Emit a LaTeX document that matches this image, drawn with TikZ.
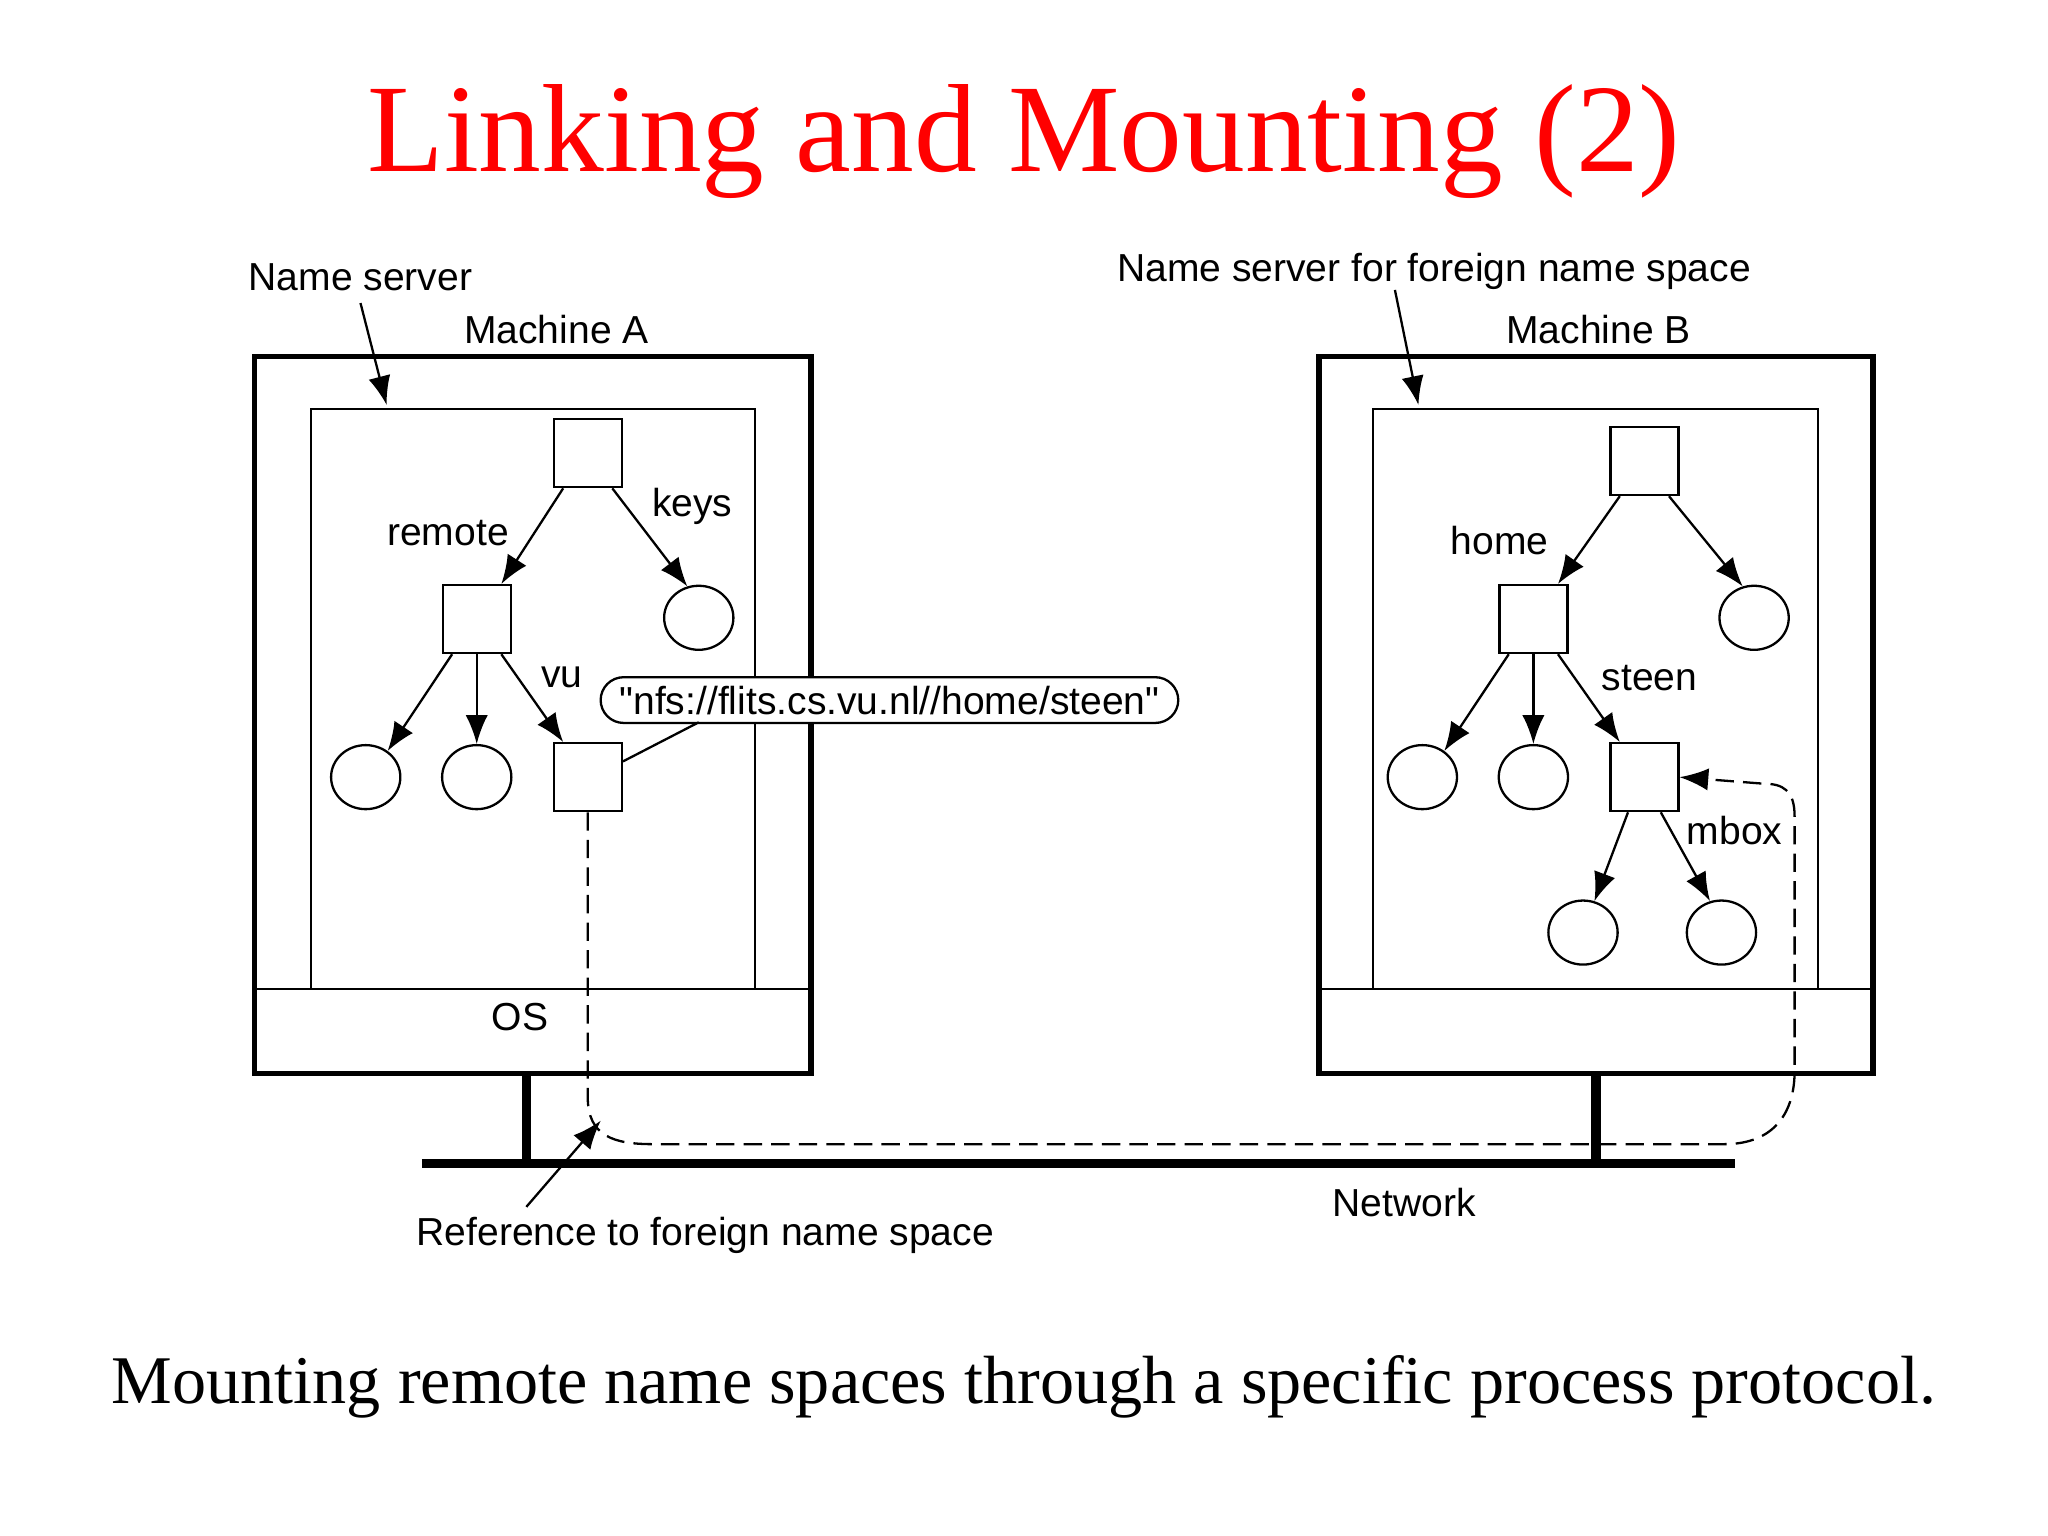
\documentclass[tikz,border=0pt]{standalone}
\usepackage{fontspec}
\setmainfont{Liberation Serif}
\newfontfamily\lblfont{Liberation Sans}
\usetikzlibrary{arrows.meta,shapes.geometric}
\begin{document}
\begin{tikzpicture}[x=0.01cm,y=-0.01cm,
  box/.style={draw,line width=1.2pt},
  inner/.style={draw,line width=0.5pt},
  sq/.style={draw,line width=0.5pt,minimum size=0.52cm,inner sep=0pt},
  lf/.style={draw,ellipse,line width=0.5pt,minimum width=0.53cm,minimum height=0.49cm,inner sep=0pt},
  arr/.style={line width=0.5pt,-{Latex[length=0.22cm,width=0.17cm]}},
  lbl/.style={font=\lblfont\fontsize{8.5pt}{9pt}\selectfont,inner sep=1pt}]
\useasboundingbox (0,0) rectangle (1568,1176);

% title and caption
\node[text=red,font=\fontsize{27.3pt}{30pt}\selectfont] (title) at (784,108) {Linking and Mounting (2)};
\node[font=\fontsize{14.85pt}{17pt}\selectfont] (caption) at (784,1062) {Mounting remote name spaces through a specific process protocol.};

% machines
\draw[box] (195,273) rectangle (621,822);
\draw[inner] (195,757) -- (621,757);
\draw[inner] (238,757) -- (238,313) -- (578,313) -- (578,757);
\draw[box] (1010,273) rectangle (1434,822);
\draw[inner] (1010,757) -- (1434,757);
\draw[inner] (1051,757) -- (1051,313) -- (1392,313) -- (1392,757);

% network
\draw[line width=2pt] (323,891) -- (1328,891);
\draw[line width=2pt] (403,822) -- (403,891);
\draw[line width=2pt] (1222,822) -- (1222,891);

% labels
\node[lbl] (ns) at (276,212) {Name server};
\node[lbl] (ma) at (426,252) {Machine A};
\node[lbl] (nsf) at (1098,208) {Name server for foreign name space};
\node[lbl] (mb) at (1224,252) {Machine B};
\node[lbl] (os) at (398,779) {OS};
\node[lbl] (net) at (1075,921) {Network};
\node[lbl] (ref) at (540,946) {Reference to foreign name space};
\coordinate (nsA) at (296,310);
\coordinate (nsB) at (1086,310);
\coordinate (refend) at (460,858);
\draw[arr] (276,232) -- (nsA);
\draw[arr] (1068,222) -- (nsB);
\draw[arr] (403,924) -- (refend);

% tree A
\node[sq] (ar) at (450,347) {};
\node[sq] (arem) at (365,474) {};
\node[lf] (akeys) at (535,473) {};
\node[lf] (a1) at (280,595) {};
\node[lf] (a2) at (365,595) {};
\node[sq] (avu) at (450,595) {};
\draw[arr] (ar.-125) -- (arem.55);
\draw[arr] (ar.-55) -- (akeys.110);
\draw[arr] (arem.-125) -- (a1.50);
\draw[arr] (arem.south) -- (a2.north);
\draw[arr] (arem.-55) -- (avu.125);
\node[lbl] at (343,408) {remote};
\node[lbl] at (530,388) {keys};
\node[lbl] at (430,519) {vu};
\node[draw,fill=white,rounded corners=5pt,line width=0.5pt,minimum width=4.42cm,minimum height=0.35cm,inner sep=0pt,
  font=\lblfont\fontsize{8.5pt}{9pt}\selectfont] (url) at (681,536) {"nfs://flits.cs.vu.nl//home/steen"};
\draw[line width=0.5pt] (avu.east |- 0,583) -- (535,553);

% tree B
\node[sq] (br) at (1259,353) {};
\node[sq] (bhome) at (1174,474) {};
\node[lf] (bk) at (1343,473) {};
\node[lf] (b1) at (1089,595) {};
\node[lf] (b2) at (1174,595) {};
\node[sq] (bst) at (1259,595) {};
\node[lf] (b3) at (1212,714) {};
\node[lf] (b4) at (1318,714) {};
\draw[arr] (br.-125) -- (bhome.55);
\draw[arr] (br.-55) -- (bk.110);
\draw[arr] (bhome.-125) -- (b1.50);
\draw[arr] (bhome.south) -- (b2.north);
\draw[arr] (bhome.-55) -- (bst.125);
\draw[arr] (bst.-115) -- (b3.70);
\draw[arr] (bst.-65) -- (b4.110);
\node[lbl] at (1148,414) {home};
\node[lbl] at (1263,519) {steen};
\node[lbl] at (1328,636) {mbox};

% mount reference
\draw[line width=0.5pt,dash pattern=on 4pt off 2pt,-{Latex[length=0.22cm,width=0.17cm]}]
  (avu.south) -- (450,840) .. controls (450,870) and (470,876) .. (500,876)
  -- (1320,876) .. controls (1360,876) and (1374,850) .. (1374,820)
  -- (1374,625) .. controls (1374,605) and (1365,600) .. (1350,600) -- (bst.east);
\end{tikzpicture}
\end{document}
